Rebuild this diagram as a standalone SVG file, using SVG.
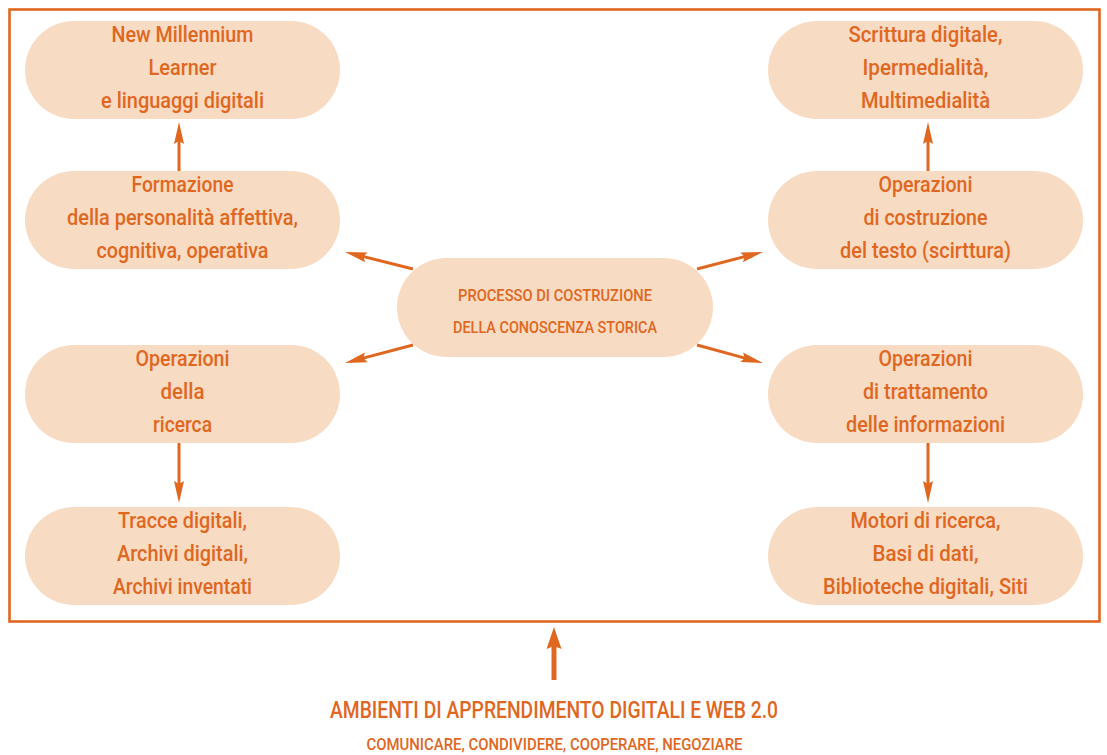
<svg xmlns="http://www.w3.org/2000/svg" width="1107" height="755" viewBox="0 0 1107 755">
  <style>
    .frame { fill: none; stroke: #E0671F; stroke-width: 2.6; }
    .node rect { fill: #F8DBC3; }
    .node text, .caption { fill: #E0671F; font-family: Roboto, "Liberation Sans", sans-serif; font-weight: 500; text-anchor: middle; }
    .node text { font-size: 21.5px; }
    .center text { font-size: 17px; }
    .link { stroke: #E0671F; stroke-width: 3; fill: none; }
    .link.big { stroke-width: 5; }
    .head { fill: #E0671F; }
  </style>
  <defs>
    <marker id="arrow" markerUnits="userSpaceOnUse" viewBox="-11 -6 24 12" markerWidth="24" markerHeight="12" refX="0" refY="0" orient="auto">
      <path class="head" d="M12,0 L-10,-5 L-7,0 L-10,5 Z"/>
    </marker>
    <marker id="arrowBig" markerUnits="userSpaceOnUse" viewBox="-10 -8 24 16" markerWidth="24" markerHeight="16" refX="0" refY="0" orient="auto">
      <path class="head" d="M13,0 L-9,-7.5 L-6,0 L-9,7.5 Z"/>
    </marker>
  </defs>

  <rect class="frame" x="9.5" y="9.5" width="1090" height="612"/>

  <!-- left column -->
  <g id="node-learner" class="node">
    <rect x="25" y="21" width="315" height="98" rx="49"/>
    <text x="182.5" y="42" textLength="142" lengthAdjust="spacingAndGlyphs">New Millennium</text>
    <text x="182.5" y="75" textLength="68" lengthAdjust="spacingAndGlyphs">Learner</text>
    <text x="182.5" y="108" textLength="163" lengthAdjust="spacingAndGlyphs">e linguaggi digitali</text>
  </g>
  <g id="node-formazione" class="node">
    <rect x="25" y="171" width="315" height="98" rx="49"/>
    <text x="182.5" y="192" textLength="102" lengthAdjust="spacingAndGlyphs">Formazione</text>
    <text x="182.5" y="225" textLength="231" lengthAdjust="spacingAndGlyphs">della personalità affettiva,</text>
    <text x="182.5" y="258" textLength="172" lengthAdjust="spacingAndGlyphs">cognitiva, operativa</text>
  </g>
  <g id="node-ricerca" class="node">
    <rect x="25" y="345" width="315" height="98" rx="49"/>
    <text x="182.5" y="366" textLength="94" lengthAdjust="spacingAndGlyphs">Operazioni</text>
    <text x="182.5" y="399" textLength="44" lengthAdjust="spacingAndGlyphs">della</text>
    <text x="182.5" y="432" textLength="59" lengthAdjust="spacingAndGlyphs">ricerca</text>
  </g>
  <g id="node-tracce" class="node">
    <rect x="25" y="507" width="315" height="98" rx="49"/>
    <text x="182.5" y="528" textLength="129" lengthAdjust="spacingAndGlyphs">Tracce digitali,</text>
    <text x="182.5" y="561" textLength="131" lengthAdjust="spacingAndGlyphs">Archivi digitali,</text>
    <text x="182.5" y="594" textLength="139" lengthAdjust="spacingAndGlyphs">Archivi inventati</text>
  </g>

  <!-- centre -->
  <g id="node-processo" class="node center">
    <rect x="397" y="258" width="316" height="99" rx="49.5"/>
    <text x="555" y="301" textLength="194" lengthAdjust="spacingAndGlyphs">PROCESSO DI COSTRUZIONE</text>
    <text x="555" y="333" textLength="204" lengthAdjust="spacingAndGlyphs">DELLA CONOSCENZA STORICA</text>
  </g>

  <!-- right column -->
  <g id="node-scrittura" class="node">
    <rect x="768" y="21" width="315" height="98" rx="49"/>
    <text x="925.5" y="42" textLength="154" lengthAdjust="spacingAndGlyphs">Scrittura digitale,</text>
    <text x="925.5" y="75" textLength="126" lengthAdjust="spacingAndGlyphs">Ipermedialità,</text>
    <text x="925.5" y="108" textLength="129" lengthAdjust="spacingAndGlyphs">Multimedialità</text>
  </g>
  <g id="node-costruzione" class="node">
    <rect x="768" y="171" width="315" height="98" rx="49"/>
    <text x="925.5" y="192" textLength="94" lengthAdjust="spacingAndGlyphs">Operazioni</text>
    <text x="925.5" y="225" textLength="124" lengthAdjust="spacingAndGlyphs">di costruzione</text>
    <text x="925.5" y="258" textLength="171" lengthAdjust="spacingAndGlyphs">del testo (scirttura)</text>
  </g>
  <g id="node-trattamento" class="node">
    <rect x="768" y="345" width="315" height="98" rx="49"/>
    <text x="925.5" y="366" textLength="94" lengthAdjust="spacingAndGlyphs">Operazioni</text>
    <text x="925.5" y="399" textLength="125" lengthAdjust="spacingAndGlyphs">di trattamento</text>
    <text x="925.5" y="432" textLength="159" lengthAdjust="spacingAndGlyphs">delle informazioni</text>
  </g>
  <g id="node-motori" class="node">
    <rect x="768" y="507" width="315" height="98" rx="49"/>
    <text x="925.5" y="528" textLength="150" lengthAdjust="spacingAndGlyphs">Motori di ricerca,</text>
    <text x="925.5" y="561" textLength="106" lengthAdjust="spacingAndGlyphs">Basi di dati,</text>
    <text x="925.5" y="594" textLength="205" lengthAdjust="spacingAndGlyphs">Biblioteche digitali, Siti</text>
  </g>

  <!-- connectors -->
  <g id="connectors">
    <line class="link" x1="179" y1="171" x2="179" y2="134" marker-end="url(#arrow)"/>
    <line class="link" x1="928" y1="171" x2="928" y2="134" marker-end="url(#arrow)"/>
    <line class="link" x1="179" y1="443" x2="179" y2="491" marker-end="url(#arrow)"/>
    <line class="link" x1="928" y1="443" x2="928" y2="491" marker-end="url(#arrow)"/>
    <line class="link" x1="413" y1="269" x2="356.6" y2="254.9" marker-end="url(#arrow)"/>
    <line class="link" x1="697" y1="269" x2="751.4" y2="254.9" marker-end="url(#arrow)"/>
    <line class="link" x1="413" y1="345" x2="356.6" y2="359.9" marker-end="url(#arrow)"/>
    <line class="link" x1="697" y1="345" x2="751.4" y2="359.9" marker-end="url(#arrow)"/>
    <line class="link big" x1="554" y1="680" x2="554" y2="640" marker-end="url(#arrowBig)"/>
  </g>

  <!-- captions below the frame -->
  <text class="caption" x="554" y="718" font-size="24" textLength="448" lengthAdjust="spacingAndGlyphs">AMBIENTI DI APPRENDIMENTO DIGITALI E WEB 2.0</text>
  <text class="caption" x="554.5" y="750" font-size="17" textLength="376" lengthAdjust="spacingAndGlyphs">COMUNICARE, CONDIVIDERE, COOPERARE, NEGOZIARE</text>
</svg>
